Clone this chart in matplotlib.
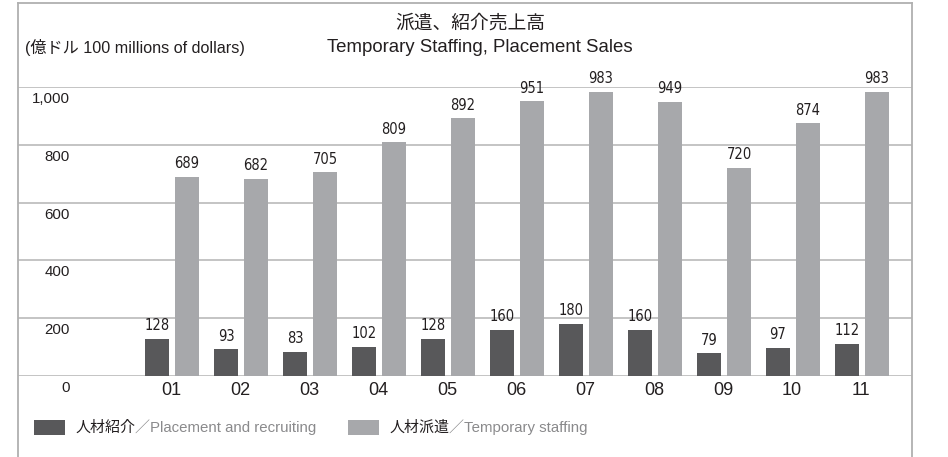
import matplotlib
matplotlib.use("Agg")
import matplotlib.pyplot as plt
from matplotlib.patches import Rectangle
from matplotlib.lines import Line2D

years = ["01", "02", "03", "04", "05", "06", "07", "08", "09", "10", "11"]
placement = [128, 93, 83, 102, 128, 160, 180, 160, 79, 97, 112]
temporary = [689, 682, 705, 809, 892, 951, 983, 949, 720, 874, 983]
yticks = [0, 200, 400, 600, 800, 1000]
ytick_labels = ["0", "200", "400", "600", "800", "1,000"]

W, H = 948, 457
fig = plt.figure(figsize=(W / 100, H / 100), dpi=100)

def fx(px):
    return px / W

def fy(py):
    return 1 - py / H

DARK = "#58585a"
LIGHT = "#a7a8ab"
GRID = "#c4c4c4"
TXT = "#231f20"
CJK = ["Liberation Sans", "Noto Sans CJK JP", "DejaVu Sans"]
NUM = dict(family="DejaVu Sans", stretch="condensed")

ax = fig.add_axes([fx(18), fy(376), fx(912) - fx(18), fy(87) - fy(376)])
n = len(years)
xs = list(range(n))
ax.set_xlim(-2.217, 10.739)
ax.set_ylim(0, 1000)
for s in ax.spines.values():
    s.set_visible(False)

ax.set_yticks(yticks)
ax.yaxis.grid(True, color=GRID, linewidth=1.4)
ax.set_axisbelow(True)
ax.tick_params(axis="y", length=0, labelleft=False)
ax.set_xticks(xs)
ax.set_xticklabels(years, fontsize=13, color=TXT, family="Liberation Sans")
ax.tick_params(axis="x", length=0, pad=4)

bw = 0.348
d_off, l_off = -0.203, 0.232
b1 = ax.bar([x + d_off for x in xs], placement, width=bw, color=DARK, zorder=3)
b2 = ax.bar([x + l_off for x in xs], temporary, width=bw, color=LIGHT, zorder=3)

for bars, vals in ((b1, placement), (b2, temporary)):
    for r, v in zip(bars, vals):
        ax.annotate(str(v), (r.get_x() + r.get_width() / 2, v),
                    xytext=(0, 4), textcoords="offset points",
                    ha="center", va="bottom", fontsize=10.5, color=TXT,
                    clip_on=False, zorder=4, **NUM)

# y tick labels, placed below each gridline
for v, lab in zip(yticks, ytick_labels):
    ax.annotate(lab, (0, v), xycoords=ax.get_yaxis_transform(),
                xytext=(52, -5), textcoords="offset pixels",
                ha="right", va="top", fontsize=10.8, color=TXT,
                family="Liberation Sans")

# frame
for xa, ya in (([fx(18), fx(18)], [0, fy(3)]),
               ([fx(18), fx(912)], [fy(3), fy(3)]),
               ([fx(912), fx(912)], [0, fy(3)])):
    fig.add_artist(Line2D(xa, ya, color="#b0b0b0", lw=1.3,
                          transform=fig.transFigure))

# titles
fig.text(fx(470), fy(23), "派遣、紹介売上高", ha="center", va="center",
         fontsize=13.5, color=TXT, family=["Noto Sans CJK JP", "DejaVu Sans"])
fig.text(fx(480), fy(48), "Temporary Staffing, Placement Sales", ha="center",
         va="center", fontsize=13.4, color=TXT, family=CJK)
fig.text(fx(25), fy(48), "(億ドル 100 millions of dollars)", ha="left",
         va="center", fontsize=11.6, color=TXT, family=CJK)

# legend
def legend_item(px, label_jp, label_en, color):
    fig.add_artist(Rectangle((fx(px), fy(435)), fx(31), fy(420) - fy(435),
                             transform=fig.transFigure, color=color, lw=0))
    t1 = fig.text(fx(px + 41), fy(427.5), label_jp, ha="left", va="center",
                  fontsize=10.8, color=TXT,
                  family=["Noto Sans CJK JP", "DejaVu Sans"])
    fig.canvas.draw()
    bb = t1.get_window_extent()
    fig.text(bb.x1 / W, fy(427.5), "／" + label_en, ha="left", va="center",
             fontsize=10.8, color="#8a8a8c",
             family=["Liberation Sans", "Noto Sans CJK JP", "DejaVu Sans"])

legend_item(34, "人材紹介", "Placement and recruiting", DARK)
legend_item(348, "人材派遣", "Temporary staffing", LIGHT)

fig.savefig("out.png", dpi=100)
